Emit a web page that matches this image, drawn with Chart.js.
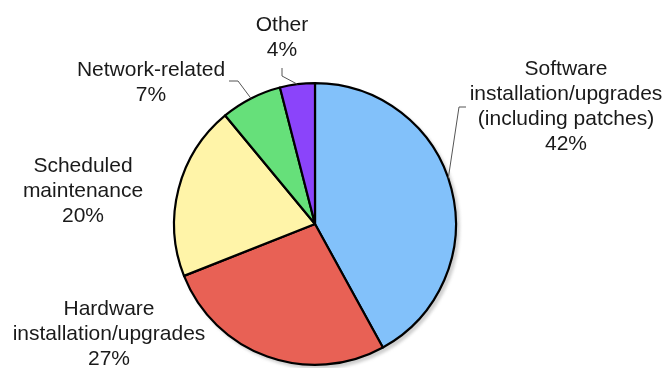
<!DOCTYPE html>
<html>
<head>
<meta charset="utf-8">
<script src="https://cdn.jsdelivr.net/npm/chart.js@4/dist/chart.umd.min.js"></script>
<style>
  html, body { margin: 0; padding: 0; background: #fff; }
  canvas { display: block; }
</style>
</head>
<body>
<canvas id="downtime" width="664" height="368"></canvas>
<script>
const causeLabels = [
    ['Software', 'installation/upgrades', '(including patches)'],
    ['Hardware', 'installation/upgrades'],
    ['Scheduled', 'maintenance'],
    ['Network-related'],
    ['Other']
];
const causeShares = [42, 27, 20, 7, 4];
const sliceColors = ['#82c1fa', '#e86155', '#fff4a8', '#66e07a', '#8b44fa'];

// where each label block sits: centre x, first baseline, and optional leader line
const labelLayout = [
    { x: 566, y: 75, lead: { at: 0.47, elbow: [459, 107], end: [466, 107] } },
    { x: 109, y: 315 },
    { x: 83, y: 172 },
    { x: 151, y: 76, lead: { at: 0.5, elbow: [238, 81], end: [229, 81] } },
    { x: 282, y: 31, lead: { at: 0.5, elbow: [282, 76], end: [282, 68] } }
];

const pieShadow = {
    id: 'pieShadow',
    beforeDatasetsDraw(chart) {
        const arc = chart.getDatasetMeta(0).data[0];
        if (!arc) return;
        const ctx = chart.ctx;
        ctx.save();
        ctx.fillStyle = '#cfcfcf';
        ctx.filter = 'blur(1.5px)';
        ctx.beginPath();
        ctx.arc(arc.x + 3, arc.y + 3, arc.outerRadius + 1, 0, Math.PI * 2);
        ctx.fill();
        ctx.restore();
    }
};

const outsideLabels = {
    id: 'outsideLabels',
    afterDatasetsDraw(chart) {
        const ctx = chart.ctx;
        const meta = chart.getDatasetMeta(0);
        const total = causeShares.reduce((a, b) => a + b, 0);
        ctx.save();
        ctx.font = '21px "Liberation Sans", Arial, sans-serif';
        ctx.textAlign = 'center';
        ctx.textBaseline = 'alphabetic';
        ctx.fillStyle = '#1a1a1a';
        causeLabels.forEach((lines, i) => {
            const pos = labelLayout[i];
            const text = lines.concat([Math.round(causeShares[i] / total * 100) + '%']);
            text.forEach((t, k) => ctx.fillText(t, pos.x, pos.y + k * 25));

            if (pos.lead) {
                const arc = meta.data[i];
                const a = arc.startAngle + (arc.endAngle - arc.startAngle) * pos.lead.at;
                const sx = arc.x + Math.cos(a) * arc.outerRadius;
                const sy = arc.y + Math.sin(a) * arc.outerRadius;
                ctx.strokeStyle = '#555';
                ctx.lineWidth = 1;
                ctx.beginPath();
                ctx.moveTo(sx, sy);
                ctx.lineTo(pos.lead.elbow[0], pos.lead.elbow[1]);
                ctx.lineTo(pos.lead.end[0], pos.lead.end[1]);
                ctx.stroke();
            }
        });
        ctx.restore();
    }
};

let ctx = document.getElementById('downtime').getContext('2d');
new Chart(ctx, {
    type: 'pie',
    data: {
        labels: causeLabels.map(l => l.join(' ')),
        datasets: [{
            data: causeShares,
            backgroundColor: sliceColors,
            borderColor: '#000',
            borderWidth: 2.2,
            borderJoinStyle: 'round'
        }]
    },
    options: {
        responsive: false,
        animation: false,
        layout: { padding: { left: 173, right: 207, top: 82, bottom: 2 } },
        plugins: {
            legend: { display: false },
            tooltip: { enabled: false }
        }
    },
    plugins: [pieShadow, outsideLabels]
});
</script>
</body>
</html>
